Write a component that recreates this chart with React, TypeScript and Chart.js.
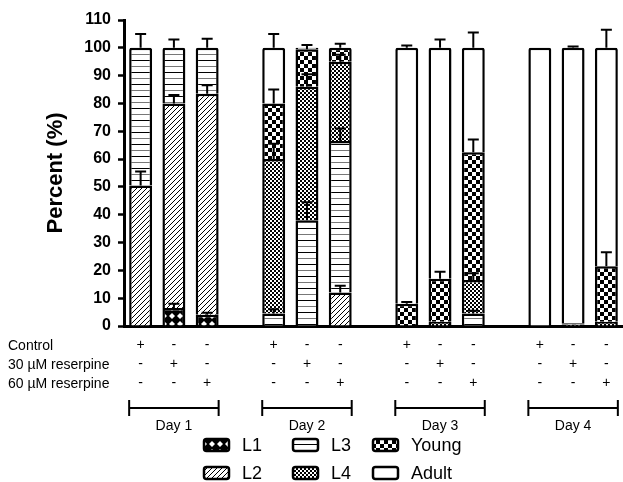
import React, { useEffect, useRef } from 'react';
import { Chart, registerables } from 'chart.js';

Chart.register(...registerables);

// ---- data ----
const categories = ['D1-C', 'D1-R30', 'D1-R60', 'gap1', 'D2-C', 'D2-R30', 'D2-R60', 'gap2', 'D3-C', 'D3-R30', 'D3-R60', 'gap3', 'D4-C', 'D4-R30', 'D4-R60'];
const controlRow = ['+', '-', '-', '', '+', '-', '-', '', '+', '-', '-', '', '+', '-', '-'];
const r30Row = ['-', '+', '-', '', '-', '+', '-', '', '-', '+', '-', '', '-', '+', '-'];
const r60Row = ['-', '-', '+', '', '-', '-', '+', '', '-', '-', '+', '', '-', '-', '+'];
const rowLabels = ['Control', '30 \u00B5M reserpine', '60 \u00B5M reserpine'];
const dayLabels = ['Day 1', 'Day 2', 'Day 3', 'Day 4'];
const yTicks = { min: 0, max: 110, step: 10 };

const L1 = [null, 6.5, 4, null, null, null, null, null, null, null, null, null, null, null, null];
const L2 = [50.5, 73.5, 79.5, null, null, null, 12, null, null, null, null, null, null, null, null];
const L3 = [49.5, 20, 16.5, null, 4.5, 38, 54.5, null, null, null, 4.5, null, null, null, null];
const L4 = [null, null, null, null, 55.5, 48, 28.5, null, null, 1.5, 12, null, null, 0.5, 1.5];
const Young = [null, null, null, null, 20, 13.5, 5, null, 8, 15.5, 46, null, null, 0.5, 20];
const Adult = [null, null, null, null, 20, 0.5, null, null, 92, 83, 37.5, null, 100, 99, 78.5];

const L1err = [null, 1.5, 0.8, null, null, null, null, null, null, null, null, null, null, null, null];
const L2err = [5, 3, 3, null, null, null, 2.5, null, null, null, null, null, null, null, null];
const L3err = [5, 3, 3.3, null, 1.5, 6.5, 4.5, null, null, null, 1, null, null, null, null];
const L4err = [null, null, null, null, 5.5, 4.5, 2.5, null, null, null, 2.5, null, null, null, null];
const YoungErr = [null, null, null, null, 5, 1.5, 1.5, null, 0.6, 2.5, 4.5, null, null, null, 5];
const AdultErr = [null, null, null, null, 5, null, null, null, 0.8, 3, 5.5, null, null, 0.5, 6.5];

const seriesNames = ['L1', 'L2', 'L3', 'L4', 'Young', 'Adult'];
const seriesValues = [L1, L2, L3, L4, Young, Adult];
const seriesErrors = [L1err, L2err, L3err, L4err, YoungErr, AdultErr];

const FONT = 'Arial, "Liberation Sans", sans-serif';

function makeTile(w: number, h: number, draw: (c: CanvasRenderingContext2D) => void) {
  const cv = document.createElement('canvas');
  cv.width = w;
  cv.height = h;
  const c = cv.getContext('2d') as CanvasRenderingContext2D;
  draw(c);
  return cv;
}

function makePatterns(ctx: CanvasRenderingContext2D): (CanvasPattern | string)[] {
  const l1 = makeTile(8, 8, (c) => {
    c.fillStyle = '#000';
    c.fillRect(0, 0, 8, 8);
    c.fillStyle = '#fff';
    c.beginPath();
    c.moveTo(4, 1);
    c.lineTo(7, 4);
    c.lineTo(4, 7);
    c.lineTo(1, 4);
    c.closePath();
    c.fill();
  });
  const l2 = makeTile(5, 5, (c) => {
    c.fillStyle = '#fff';
    c.fillRect(0, 0, 5, 5);
    c.fillStyle = '#000';
    for (let i = 0; i < 5; i++) c.fillRect(i, 4 - i, 1, 1);
  });
  const l3 = makeTile(4, 12, (c) => {
    c.fillStyle = '#fff';
    c.fillRect(0, 0, 4, 12);
    c.fillStyle = '#000';
    c.fillRect(0, 0, 4, 1);
    c.fillStyle = '#777';
    c.fillRect(0, 6, 4, 1);
  });
  const l4 = makeTile(4, 4, (c) => {
    c.fillStyle = '#fff';
    c.fillRect(0, 0, 4, 4);
    c.fillStyle = '#000';
    c.fillRect(0, 0, 2, 2);
    c.fillRect(2, 2, 2, 2);
  });
  const young = makeTile(8, 8, (c) => {
    c.fillStyle = '#fff';
    c.fillRect(0, 0, 8, 8);
    c.fillStyle = '#000';
    c.fillRect(0, 0, 4, 4);
    c.fillRect(4, 4, 4, 4);
  });
  return [
    ctx.createPattern(l1, 'repeat') as CanvasPattern,
    ctx.createPattern(l2, 'repeat') as CanvasPattern,
    ctx.createPattern(l3, 'repeat') as CanvasPattern,
    ctx.createPattern(l4, 'repeat') as CanvasPattern,
    ctx.createPattern(young, 'repeat') as CanvasPattern,
    '#fff',
  ];
}

function roundRect(c: CanvasRenderingContext2D, x: number, y: number, w: number, h: number, r: number) {
  c.beginPath();
  c.moveTo(x + r, y);
  c.lineTo(x + w - r, y);
  c.quadraticCurveTo(x + w, y, x + w, y + r);
  c.lineTo(x + w, y + h - r);
  c.quadraticCurveTo(x + w, y + h, x + w - r, y + h);
  c.lineTo(x + r, y + h);
  c.quadraticCurveTo(x, y + h, x, y + h - r);
  c.lineTo(x, y + r);
  c.quadraticCurveTo(x, y, x + r, y);
  c.closePath();
}

export default function App() {
  const ref = useRef<HTMLCanvasElement>(null);

  useEffect(() => {
    const canvas = ref.current;
    if (!canvas) return;
    const ctx = canvas.getContext('2d') as CanvasRenderingContext2D;
    const patterns = makePatterns(ctx);

    const errorBars = {
      id: 'errorBars',
      afterDatasetsDraw(chart: any) {
        const c = chart.ctx;
        const y = chart.scales.y;
        c.save();
        c.strokeStyle = '#000';
        c.lineWidth = 2;
        seriesErrors.forEach((errs, di) => {
          const meta = chart.getDatasetMeta(di);
          errs.forEach((e, j) => {
            if (e == null) return;
            let top = 0;
            for (let k = 0; k <= di; k++) top += (seriesValues[k][j] as number) || 0;
            const el = meta.data[j];
            if (!el) return;
            const x = el.x;
            const y0 = y.getPixelForValue(top);
            const y1 = y.getPixelForValue(top + e);
            c.beginPath();
            c.moveTo(x, y0);
            c.lineTo(x, y1);
            c.moveTo(x - 5.5, y1);
            c.lineTo(x + 5.5, y1);
            c.stroke();
          });
        });
        c.restore();
      },
    };

    const annotations = {
      id: 'annotations',
      afterDraw(chart: any) {
        const c = chart.ctx;
        const xs = chart.scales.x;
        const meta = chart.getDatasetMeta(5);
        c.save();
        c.fillStyle = '#000';
        c.strokeStyle = '#000';
        // row labels
        c.font = `14px ${FONT}`;
        c.textAlign = 'left';
        c.textBaseline = 'middle';
        rowLabels.forEach((t, i) => c.fillText(t, 8, 346 + i * 19));
        // day brackets
        const half = (meta.data[0] as any).width / 2;
        dayLabels.forEach((d, g) => {
          const x0 = xs.getPixelForValue(g * 4) - half;
          const x1 = xs.getPixelForValue(g * 4 + 2) + half;
          const yb = 408;
          c.lineWidth = 2;
          c.beginPath();
          c.moveTo(x0, yb);
          c.lineTo(x1, yb);
          c.moveTo(x0, yb - 8);
          c.lineTo(x0, yb + 8);
          c.moveTo(x1, yb - 8);
          c.lineTo(x1, yb + 8);
          c.stroke();
          c.textAlign = 'center';
          c.fillText(d, (x0 + x1) / 2, 426);
        });
        // legend
        const cols = [204, 293, 373];
        const rows = [445, 473];
        const order = [
          [0, 0, 0], // L1
          [1, 0, 1], // L2
          [2, 1, 0], // L3
          [3, 1, 1], // L4
          [4, 2, 0], // Young
          [5, 2, 1], // Adult
        ];
        c.font = `18px ${FONT}`;
        c.textAlign = 'left';
        order.forEach(([si, col, row]) => {
          const bx = cols[col];
          const by = rows[row] - 6;
          roundRect(c, bx, by, 25, 12, 2.5);
          c.fillStyle = patterns[si] as any;
          c.fill();
          c.lineWidth = 2.5;
          c.strokeStyle = '#000';
          c.stroke();
          c.fillStyle = '#000';
          c.fillText(seriesNames[si], bx + 38, rows[row] + 1);
        });
        c.restore();
      },
    };

    const chart = new Chart(canvas, {
      type: 'bar',
      data: {
        labels: categories.map((_, i) => [controlRow[i], r30Row[i], r60Row[i]]),
        datasets: seriesNames.map((name, i) => ({
          label: name,
          data: seriesValues[i] as any,
          backgroundColor: patterns[i] as any,
          borderColor: '#000',
          borderWidth: 2.5,
          borderRadius: 2,
          borderSkipped: 'start',
          barPercentage: 0.69,
          categoryPercentage: 1,
        })),
      },
      options: {
        animation: false,
        responsive: false,
        devicePixelRatio: 1,
        layout: { padding: { top: 20, left: 0, right: 0, bottom: 0 } },
        plugins: { legend: { display: false }, tooltip: { enabled: false } },
        scales: {
          x: {
            stacked: true,
            grid: { display: false, drawTicks: false },
            border: { display: true, width: 3, color: '#000' },
            ticks: {
              autoSkip: false,
              maxRotation: 0,
              color: '#000',
              padding: 10,
              font: { family: FONT, size: 14, lineHeight: 19 / 14 },
            },
            afterFit: (s: any) => {
              s.height = 156;
            },
          },
          y: {
            stacked: true,
            min: yTicks.min,
            max: yTicks.max,
            grid: { drawOnChartArea: false, drawTicks: true, tickLength: 6, tickWidth: 2.5, tickColor: '#000' },
            border: { display: true, width: 3, color: '#000' },
            ticks: {
              stepSize: yTicks.step,
              color: '#000',
              padding: 7,
              font: { family: FONT, size: 16, weight: 'bold' },
            },
            title: {
              display: true,
              text: 'Percent (%)',
              color: '#000',
              font: { family: FONT, size: 22, weight: 'bold' },
              padding: { top: 43, bottom: 0 },
            },
            afterFit: (s: any) => {
              s.width = 124;
            },
          },
        },
      },
      plugins: [errorBars, annotations],
    });
    return () => chart.destroy();
  }, []);

  return (
    <div style={{ position: 'absolute', left: 0, top: 0, width: 623, height: 482, background: '#fff' }}>
      <canvas ref={ref} width={623} height={482} style={{ display: 'block' }} />
    </div>
  );
}
